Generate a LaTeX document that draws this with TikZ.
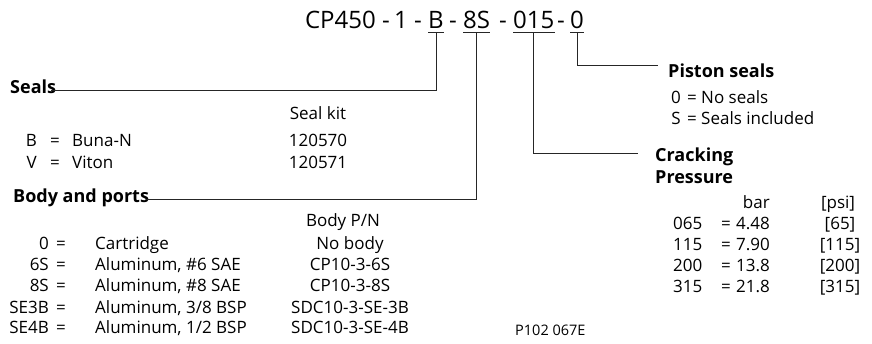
\documentclass[tikz,border=0pt]{standalone}
\usepackage{fontspec}
\setmainfont{Open Sans}
\begin{document}
\begin{tikzpicture}[x=1pt,y=-1pt,
  txt/.style={inner sep=0pt, anchor=base west, font=\fontsize{17}{20}\selectfont},
  txtc/.style={txt, anchor=base},
  txtr/.style={txt, anchor=base east},
  hd/.style={txt, font=\fontsize{18}{21}\selectfont\bfseries},
  ttl/.style={inner sep=0pt, anchor=base west, font=\fontsize{24}{26}\selectfont},
  ttlc/.style={ttl, anchor=base},
  ln/.style={line width=0.9pt, black!85}]
\useasboundingbox (0,0) rectangle (872,344);

% title
\node[ttl, anchor=base east] (tCP) at (376,29) {CP450};
\node[ttlc] (h1) at (386,29) {-};
\node[ttl] (t1) at (394,29) {1};
\node[ttlc] (h2) at (418,29) {-};
\node[ttl] (tB) at (428,29) {B};
\node[ttlc] (h3) at (453,29) {-};
\node[ttl] (t8S) at (463,29) {8S};
\node[ttlc] (h4) at (503,29) {-};
\node[ttl] (t015) at (513,29) {015};
\node[ttlc] (h5) at (561,29) {-};
\node[ttl] (tP) at (570,29) {0};
\foreach \n in {tB,t8S,t015,tP}{
  \draw[ln] ([yshift=-3.5pt]\n.base west) -- ([yshift=-3.5pt]\n.base east);
  \coordinate (u\n) at ([yshift=-3.5pt]\n.base);
}

% Seals
\node[hd] (seals) at (10,94) {Seals};
\coordinate (sealsend) at ([xshift=-5pt,yshift=3.5pt]seals.base east);
\draw[ln] (utB) -- (utB |- sealsend) -- (sealsend);
\node[txtc] (sk) at (318,120) {Seal kit};
\node[txtr] at (37,147) {B};
\node[txtc] at (55,147) {=};
\node[txt] at (72,147) {Buna-N};
\node[txtc] at (318,147) {120570};
\node[txtr] at (37,169) {V};
\node[txtc] at (55,169) {=};
\node[txt] at (72,169) {Viton};
\node[txtc] at (318,169) {120571};

% Body and ports
\node[hd] (body) at (13,203) {Body and ports};
\coordinate (bodyend) at ([xshift=-3pt,yshift=3.5pt]body.base east);
\draw[ln] (ut8S) -- (ut8S |- bodyend) -- (bodyend);
\node[txtc] at (343,227) {Body P/N};
\foreach \c/\d/\p [count=\i] in {0/Cartridge/No body, 6S/{Aluminum, \#6 SAE}/CP10-3-6S, 8S/{Aluminum, \#8 SAE}/CP10-3-8S, SE3B/{Aluminum, 3/8 BSP}/SDC10-3-SE-3B, SE4B/{Aluminum, 1/2 BSP}/SDC10-3-SE-4B}{
  \node[txtr] at (49,{229+21*\i}) {\c};
  \node[txtc] at (61,{229+21*\i}) {=};
  \node[txt] at (95,{229+21*\i}) {\d};
  \node[txtc] at (350,{229+21*\i}) {\p};
}
\node[txt, font=\fontsize{14.5}{16}\selectfont] (pn) at (515,335) {P102 067E};

% Piston seals
\node[hd] (piston) at (668,78) {Piston seals};
\coordinate (pistonend) at ([xshift=-10pt,yshift=12.5pt]piston.base west);
\draw[ln] (utP) -- (utP |- pistonend) -- (pistonend);
\node[txtr] at (681,104) {0};
\node[txtc] at (692,104) {=};
\node[txt] at (701,104) {No seals};
\node[txtr] at (681,125) {S};
\node[txtc] at (692,125) {=};
\node[txt] at (701,125) {Seals included};

% Cracking pressure
\node[hd] (crack) at (655,162) {Cracking};
\node[hd] (press) at (655,184) {Pressure};
\coordinate (crackend) at ([xshift=-17pt,yshift=9pt]crack.base west);
\draw[ln] (ut015) -- (ut015 |- crackend) -- (crackend);
\node[txtr] at (770,209) {bar};
\node[txtc] at (838,209) {[psi]};
\foreach \c/\b/\p [count=\i] in {065/4.48/65, 115/7.90/115, 200/13.8/200, 315/21.8/315}{
  \node[txt] at (673,{209+20.8*\i}) {\c};
  \node[txtc] at (726,{209+20.8*\i}) {=};
  \node[txtr] at (770,{209+20.8*\i}) {\b};
  \node[txtc] at (840,{209+20.8*\i}) {[\p]};
}
\end{tikzpicture}
\end{document}
